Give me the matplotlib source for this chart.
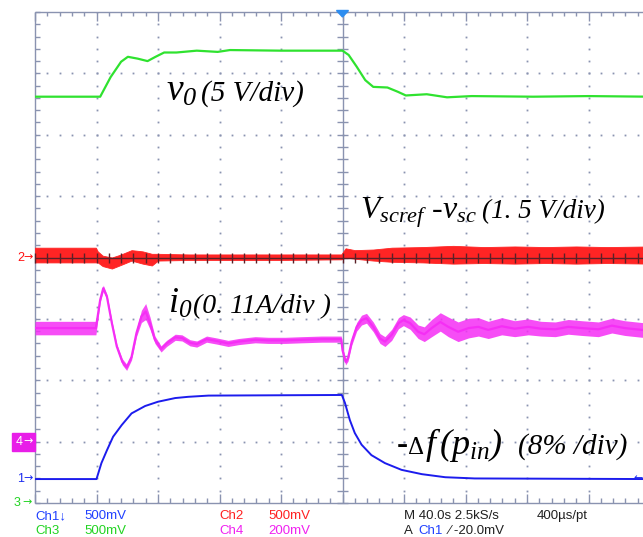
import matplotlib
matplotlib.use('Agg')
import matplotlib.pyplot as plt
import numpy as np
from matplotlib.collections import LineCollection
from matplotlib.patches import Polygon, Rectangle

plt.rcParams['mathtext.fontset'] = 'custom'
plt.rcParams['mathtext.it'] = 'Liberation Serif:italic'
plt.rcParams['mathtext.rm'] = 'Liberation Serif:italic'
plt.rcParams['mathtext.bf'] = 'Liberation Serif:bold'

# ---------------- data (x: divisions of 40 s, y: screen divisions) ----------------
green_t = [0.0, 1.0, 1.06, 1.23, 1.40, 1.51, 1.67, 1.83, 1.96, 2.10, 2.30, 2.63, 2.97, 3.17,
           4.0, 5.0, 5.10, 5.23, 5.37, 5.50, 5.73, 5.90, 6.03, 6.37, 6.70, 7.10, 8.10, 9.0, 10.0]
green_v = [2.62, 2.62, 2.62, 2.94, 3.19, 3.27, 3.24, 3.20, 3.27, 3.34, 3.34, 3.37, 3.35, 3.38,
           3.37, 3.37, 3.30, 3.11, 2.89, 2.78, 2.77, 2.70, 2.64, 2.66, 2.61, 2.63, 2.62, 2.63, 2.62]

blue_t = [0.0, 1.0, 1.08, 1.17, 1.27, 1.41, 1.57, 1.79, 2.0, 2.28, 2.49, 2.82, 4.99,
          5.04, 5.12, 5.20, 5.31, 5.47, 5.69, 5.96, 6.29, 6.67, 7.15, 10.0]
blue_v = [-3.61, -3.61, -3.35, -3.14, -2.92, -2.73, -2.54, -2.42, -2.35, -2.29, -2.27, -2.25, -2.24,
          -2.37, -2.65, -2.86, -3.05, -3.22, -3.35, -3.46, -3.53, -3.58, -3.60, -3.61]

red_t = [0.0, 0.99, 1.02, 1.10, 1.25, 1.40, 1.57, 1.75, 1.90, 2.0, 2.5, 3.0, 4.0, 4.98,
         5.05, 5.2, 5.5, 5.8, 6.3, 6.8, 7.3, 7.8, 8.3, 8.8, 9.3, 10.0]
red_hi = [0.16, 0.16, 0.10, 0.03, 0.00, 0.05, 0.12, 0.10, 0.06, 0.06, 0.05, 0.05, 0.05, 0.05,
          0.15, 0.12, 0.13, 0.16, 0.17, 0.19, 0.17, 0.18, 0.17, 0.18, 0.17, 0.18]
red_lo = [-0.08, -0.08, -0.08, -0.14, -0.18, -0.12, -0.05, -0.10, -0.13, -0.05, -0.04, -0.04, -0.04, -0.03,
          0.00, -0.02, -0.05, -0.07, -0.08, -0.10, -0.09, -0.10, -0.09, -0.10, -0.09, -0.10]

mag_t = [0.0, 0.99, 1.06, 1.11, 1.17, 1.25, 1.33, 1.42, 1.49, 1.57, 1.65, 1.73, 1.80, 1.87, 1.95,
         2.05, 2.14, 2.28, 2.39, 2.52, 2.63, 2.79, 2.95, 3.14, 3.31, 3.58, 3.79, 4.07, 4.34, 4.66, 4.98,
         5.0, 5.05, 5.09, 5.15, 5.23, 5.31, 5.39, 5.50, 5.61, 5.69, 5.80, 5.91, 5.99, 6.10, 6.23,
         6.33, 6.45, 6.59, 6.72, 6.88, 7.05, 7.21, 7.37, 7.59, 7.80, 8.02, 8.23, 8.46, 8.67, 8.89,
         9.16, 9.38, 9.59, 9.87, 10.0]
mag_v = [-1.15, -1.15, -0.69, -0.50, -0.64, -1.07, -1.45, -1.70, -1.79, -1.62, -1.23, -0.96, -0.88, -1.07, -1.34,
         -1.49, -1.40, -1.30, -1.31, -1.39, -1.41, -1.33, -1.36, -1.40, -1.37, -1.34, -1.35, -1.35, -1.34, -1.33, -1.33,
         -1.51, -1.70, -1.64, -1.37, -1.13, -1.02, -0.99, -1.13, -1.32, -1.37, -1.26, -1.07, -1.02, -1.07, -1.21,
         -1.25, -1.15, -1.05, -1.13, -1.21, -1.15, -1.13, -1.18, -1.12, -1.16, -1.13, -1.16, -1.17, -1.13, -1.15,
         -1.17, -1.11, -1.15, -1.18, -1.17]
mag_hw = [0.11, 0.11, 0.04, 0.05, 0.04, 0.04, 0.04, 0.05, 0.05, 0.05, 0.06, 0.10, 0.13, 0.10, 0.06,
          0.05, 0.05, 0.05, 0.05, 0.05, 0.05, 0.05, 0.05, 0.05, 0.05, 0.05, 0.05, 0.05, 0.05, 0.05, 0.05,
          0.05, 0.05, 0.05, 0.06, 0.07, 0.08, 0.08, 0.08, 0.08, 0.08, 0.09, 0.09, 0.09, 0.10, 0.11,
          0.12, 0.14, 0.15, 0.16, 0.16, 0.16, 0.15, 0.14, 0.14, 0.13, 0.13, 0.12, 0.12, 0.12, 0.12,
          0.12, 0.12, 0.12, 0.12, 0.12]

ch_rows = [["Ch1\u2193", "500mV", "Ch2", "500mV", "M 40.0s 2.5kS/s", "400\u00b5s/pt"],
           ["Ch3", "500mV", "Ch4", "200mV", "A", "Ch1", "\u2215 -20.0mV"]]

# ---------------- colours ----------------
C_BLUE = '#1c1ced'
C_GREEN = '#2fe22f'
C_RED = '#ff2424'
C_MAG = '#f52ef5'
GRID = '#8a93b0'

W, H = 643, 537
fig = plt.figure(figsize=(W / 100, H / 100), dpi=100)
fig.patch.set_facecolor('white')
L, R, T, B = 35, 650, 12, 503
ax = fig.add_axes([L / W, (H - B) / H, (R - L) / W, (B - T) / H])
ax.set_xlim(0, 10)
ax.set_ylim(-4, 4)
ax.axis('off')

pxx = 10 / (R - L)
pxy = 8 / (B - T)

# ---------------- graticule ----------------
minx = np.round(np.arange(0, 10.001, 0.2), 3)
miny = np.round(np.arange(-4, 4.001, 0.2), 3)
for gx in [1, 2, 3, 4, 6, 7, 8, 9]:
    ax.plot(np.full(miny.size, gx), miny, ls='none', marker='s', ms=1.3, mec='none', mfc=GRID, zorder=1)
for gy in [-3, -2, -1, 1, 2, 3]:
    ax.plot(minx, np.full(minx.size, gy), ls='none', marker='s', ms=1.3, mec='none', mfc=GRID, zorder=1)

segs = [[(0, -4), (0, 4)], [(0, 4), (10, 4)], [(0, -4), (10, -4)], [(10, -4), (10, 4)], [(5, -4), (5, 4)]]
for y in miny:
    segs.append([(0, y), (5 * pxx, y)])
    segs.append([(5 - 5.5 * pxx, y), (5 + 5.5 * pxx, y)])
    segs.append([(10 - 6 * pxx, y), (10, y)])
for x in minx:
    major = abs(x - round(x)) < 1e-6
    segs.append([(x, 4), (x, 4 - (9 if major else 4) * pxy)])
    segs.append([(x, -4), (x, -4 + (9 if major else 5) * pxy)])
ax.add_collection(LineCollection(segs, colors=GRID, linewidths=1.0, zorder=2, clip_on=False))

# ---------------- traces ----------------
ax.fill_between(red_t, red_lo, red_hi, color=C_RED, lw=0.6, ec=C_RED, zorder=3)
cseg = [[(0, 0), (10, 0)]] + [[(x, -5 * pxy), (x, 5 * pxy)] for x in minx]
ax.add_collection(LineCollection(cseg, colors='#5a2028', linewidths=1.0, zorder=4, clip_on=False))

mt = np.array(mag_t); mv = np.array(mag_v); mh = np.array(mag_hw)
ax.fill_between(mt, mv - mh, mv + mh, color=C_MAG, alpha=0.85, lw=0, zorder=3)
ax.plot(mt, mv, color=C_MAG, lw=1.6, zorder=3, solid_joinstyle='round')

ax.plot(green_t, green_v, color=C_GREEN, lw=1.6, zorder=5)
ax.plot(blue_t, blue_v, color=C_BLUE, lw=1.4, zorder=5)

ax.add_patch(Polygon([(5 - 6 * pxx, 4 + 1.5 * pxy), (5 + 6 * pxx, 4 + 1.5 * pxy), (5, 4 - 5 * pxy)],
                     closed=True, color='#2d8df0', zorder=6, clip_on=False))

# ---------------- annotations ----------------
serif = 'Liberation Serif'
ax.text(2.13, 2.55, r'$v_0$', fontsize=27, va='baseline', ha='left', zorder=7)
ax.text(2.70, 2.55, '(5 V/div)', fontsize=21, family=serif, style='italic', va='baseline', zorder=7)

ax.text(5.28, 0.64, r'$V_{scref}$ -$v_{sc}$', fontsize=23, family=serif, style='italic',
        va='baseline', zorder=7)
ax.text(7.27, 0.64, '(1. 5 V/div)', fontsize=19.5, family=serif, style='italic', va='baseline', zorder=7)

ax.text(2.16, -0.90, r'$i_0$', fontsize=26, va='baseline', zorder=7)
ax.text(2.57, -0.90, '(0. 11A/div )', fontsize=20, family=serif, style='italic', va='baseline', zorder=7)

ax.text(5.88, -3.20, '-', fontsize=24, family=serif, weight='bold', va='baseline', zorder=7)
ax.text(6.06, -3.20, '\u0394', fontsize=18, family=serif, va='baseline', zorder=7)
ax.text(6.34, -3.20, r'$f\,(p_{in})$', fontsize=26, va='baseline', zorder=7)
ax.text(7.85, -3.20, '(8% /div)', fontsize=21, family=serif, style='italic', va='baseline', zorder=7)

# ---------------- channel markers ----------------
mono = ['Liberation Sans Narrow', 'Liberation Sans', 'DejaVu Sans']


def ftext(x, y, s, **kw):
    fig.text(x / W, 1 - y / H, s, va='center', **kw)


ftext(17, 258, '2', color='#ff1010', fontsize=9, family=mono)
ftext(23, 257.5, '\u2192', color='#ff1010', fontsize=8, family='DejaVu Sans')
fig.patches.append(Rectangle((12 / W, 1 - 451 / H), 23 / W, 18 / H, transform=fig.transFigure,
                             color='#e81ee8', zorder=1))
ftext(16, 442, '4', color='white', fontsize=9, family=mono)
ftext(23, 441.5, '\u2192', color='white', fontsize=8, family='DejaVu Sans')
ftext(17, 479, '1', color='#1c2cf0', fontsize=9, family=mono)
ftext(23, 478.5, '\u2192', color='#1c2cf0', fontsize=8, family='DejaVu Sans')
ftext(14, 503, '3', color='#22d422', fontsize=9, family=mono)
ftext(22, 502.5, '\u2192', color='#22d422', fontsize=8, family='DejaVu Sans')
ftext(633, 478.5, '\u2190', color='#1c2cf0', fontsize=8, family='DejaVu Sans')

# ---------------- bottom readout ----------------
row1_x = [35, 84, 219, 268, 404, 537]
row1_c = ['#2040ff', '#2040ff', '#ff2020', '#ff2020', '#202020', '#202020']
for s, x, c in zip(ch_rows[0], row1_x, row1_c):
    ftext(x, 516, s, color=c, fontsize=9.5, family=mono)
row2_x = [35, 84, 219, 268, 404, 418, 449]
row2_c = ['#22d422', '#22d422', '#f020f0', '#f020f0', '#202020', '#2040ff', '#202020']
for s, x, c in zip(ch_rows[1], row2_x, row2_c):
    ftext(x, 531, s, color=c, fontsize=9.5, family=mono)

fig.savefig('out.png', dpi=100)
